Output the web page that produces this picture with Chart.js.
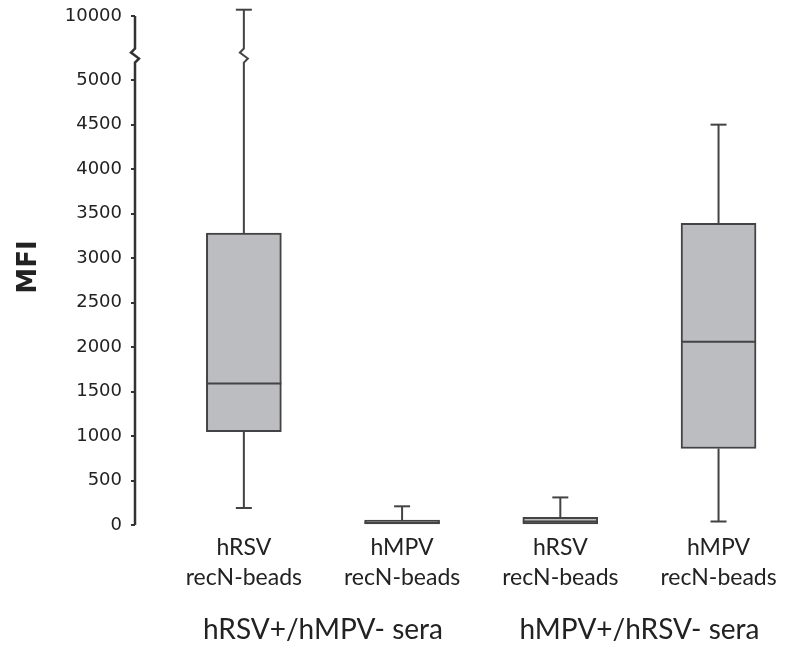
<!DOCTYPE html>
<html lang="en">
<head>
    <meta charset="UTF-8">
    <title>MFI box plot</title>
    <style>
        body {
            margin: 0;
            background: #fff;
        }
        #wrap {
            width: 785px;
            height: 650px;
            position: relative;
        }
    </style>
</head>
<body>
    <div id="wrap"><canvas id="chart"></canvas></div>

    <script src="https://cdn.jsdelivr.net/npm/chart.js"></script>
    <script>
        // categories and groups
        const categories = [
            ['hRSV', 'recN-beads'],
            ['hMPV', 'recN-beads'],
            ['hRSV', 'recN-beads'],
            ['hMPV', 'recN-beads']
        ];
        const groups = ['hRSV+/hMPV- sera', 'hMPV+/hRSV- sera'];

        // box plot values (MFI)
        const whiskerLow = [190, 0, 0, 40];
        const q1 = [1050, 0, 0, 860];
        const median = [1590, 25, 40, 2060];
        const q3 = [3280, 55, 85, 3390];
        const whiskerHigh = [10500, 210, 310, 4500];

        // y tick labels
        const yTicks = [0, 500, 1000, 1500, 2000, 2500, 3000, 3500, 4000, 4500, 5000, 10000];

        // broken axis: everything above 5000 is squeezed
        const breakAt = 5000;
        const squeeze = 720 / 5000;
        function mapY(v) {
            return v <= breakAt ? v : breakAt + (v - breakAt) * squeeze;
        }

        const lineColor = '#434343';

        function zigzagLine(ctx, x, yTop, yBottom, yBreak) {
            ctx.beginPath();
            ctx.moveTo(x, yTop);
            ctx.lineTo(x, yBreak - 6);
            ctx.lineTo(x - 4, yBreak - 2);
            ctx.lineTo(x + 4, yBreak + 4);
            ctx.lineTo(x, yBreak + 8);
            ctx.lineTo(x, yBottom);
            ctx.stroke();
        }

        const boxPlugin = {
            id: 'boxExtras',
            afterDatasetsDraw(chart) {
                const ctx = chart.ctx;
                const xs = chart.scales.x;
                const ys = chart.scales.y;
                const half = 37.5;
                const cap = 8;
                const yBreak = ys.getPixelForValue(breakAt + 720 * 0.4);

                ctx.save();
                ctx.strokeStyle = lineColor;
                ctx.lineWidth = 2;
                ctx.lineJoin = 'miter';

                categories.forEach((c, i) => {
                    const x = xs.getPixelForValue(i + 1);
                    const pMed = ys.getPixelForValue(mapY(median[i]));
                    const pQ1 = ys.getPixelForValue(mapY(q1[i]));
                    const pQ3 = ys.getPixelForValue(mapY(q3[i]));
                    const pLo = ys.getPixelForValue(mapY(whiskerLow[i]));
                    const pHi = ys.getPixelForValue(mapY(whiskerHigh[i]));

                    // median
                    ctx.beginPath();
                    ctx.moveTo(x - half, pMed);
                    ctx.lineTo(x + half, pMed);
                    ctx.stroke();

                    // upper whisker
                    if (whiskerHigh[i] > breakAt) {
                        zigzagLine(ctx, x, pHi, pQ3, yBreak);
                    } else {
                        ctx.beginPath();
                        ctx.moveTo(x, pQ3);
                        ctx.lineTo(x, pHi);
                        ctx.stroke();
                    }
                    ctx.beginPath();
                    ctx.moveTo(x - cap, pHi);
                    ctx.lineTo(x + cap, pHi);
                    ctx.stroke();

                    // lower whisker
                    if (whiskerLow[i] < q1[i]) {
                        ctx.beginPath();
                        ctx.moveTo(x, pQ1);
                        ctx.lineTo(x, pLo);
                        ctx.moveTo(x - cap, pLo);
                        ctx.lineTo(x + cap, pLo);
                        ctx.stroke();
                    }
                });

                // y axis line with break
                const ax = chart.chartArea.left;
                ctx.strokeStyle = '#333';
                ctx.lineWidth = 2.5;
                zigzagLine(ctx, ax, ys.getPixelForValue(mapY(10000)), ys.getPixelForValue(0), yBreak);

                // group labels
                ctx.fillStyle = '#222';
                ctx.font = '28px Lato';
                ctx.textAlign = 'center';
                ctx.textBaseline = 'middle';
                groups.forEach((g, k) => {
                    const x = xs.getPixelForValue(2 * k + 1.5);
                    ctx.fillText(g, x, 630);
                });
                ctx.restore();
            }
        };

        const ctx = document.getElementById('chart').getContext('2d');
        new Chart(ctx, {
            type: 'bar',
            data: {
                datasets: [{
                    data: categories.map((c, i) => ({ x: i + 1, y: [mapY(q1[i]), mapY(q3[i])] })),
                    backgroundColor: '#bcbdc1',
                    borderColor: lineColor,
                    borderWidth: 2,
                    borderSkipped: false,
                    barThickness: 75,
                    clip: false
                }]
            },
            options: {
                responsive: true,
                maintainAspectRatio: false,
                animation: false,
                layout: {
                    padding: { top: 9, right: 0, bottom: 0, left: 0 }
                },
                plugins: {
                    legend: { display: false },
                    tooltip: { enabled: false }
                },
                scales: {
                    x: {
                        type: 'linear',
                        offset: false,
                        min: 0.312,
                        max: 4.42,
                        afterBuildTicks(scale) {
                            scale.ticks = categories.map((c, i) => ({ value: i + 1 }));
                        },
                        afterFit(scale) {
                            scale.height = 125;
                            scale.paddingLeft = 0;
                            scale.paddingRight = 0;
                        },
                        grid: { display: false, drawTicks: false },
                        border: { display: false },
                        ticks: {
                            callback: (v, i) => categories[i],
                            maxRotation: 0,
                            autoSkip: false,
                            padding: 8,
                            color: '#222',
                            font: { family: 'Lato', size: 23, lineHeight: 1.3 }
                        }
                    },
                    y: {
                        type: 'linear',
                        min: 0,
                        max: 5800,
                        afterBuildTicks(scale) {
                            scale.ticks = yTicks.map(v => ({ value: mapY(v) }));
                        },
                        afterFit(scale) {
                            scale.width = 135;
                            scale.paddingTop = 0;
                            scale.paddingBottom = 0;
                        },
                        title: {
                            display: true,
                            text: 'MFI',
                            color: '#222',
                            padding: { top: 14, bottom: 0 },
                            font: { family: 'DejaVu Sans', size: 26, weight: 'bold' }
                        },
                        grid: {
                            drawOnChartArea: false,
                            tickLength: 4,
                            color: '#333',
                            lineWidth: 2
                        },
                        border: { display: false },
                        ticks: {
                            callback: (v, i) => String(yTicks[i]),
                            autoSkip: false,
                            padding: 9,
                            color: '#222',
                            font: { family: 'DejaVu Sans', size: 18 }
                        }
                    }
                }
            },
            plugins: [boxPlugin]
        });
    </script>
</body>
</html>
